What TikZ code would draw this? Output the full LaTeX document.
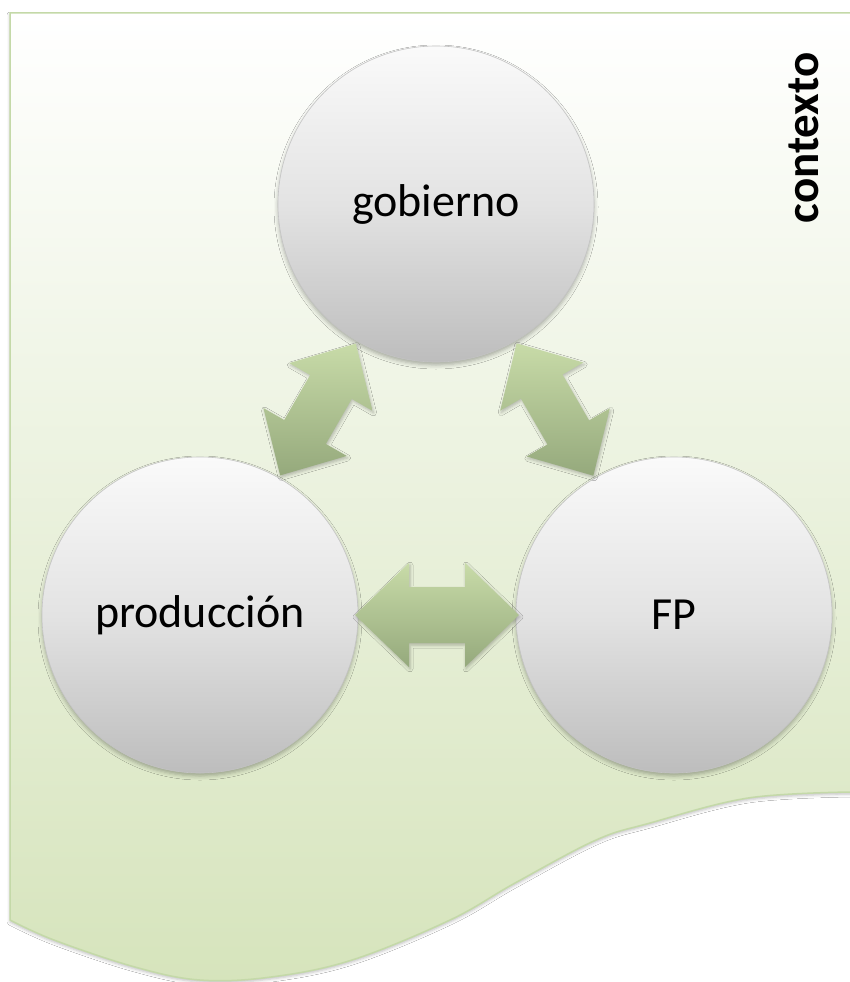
\documentclass[tikz,border=0pt]{standalone}
\usepackage{fontspec}
\setmainfont{Carlito}
\usetikzlibrary{calc,shadows.blur}
\definecolor{bgbot}{HTML}{D6E4BC}
\definecolor{framecol}{HTML}{C4D9A8}
\definecolor{arrtop}{HTML}{C8DBA8}
\definecolor{arrbot}{HTML}{95A97C}
\definecolor{balltop}{HTML}{FAFAFA}
\definecolor{ballmid}{HTML}{E3E3E3}
\definecolor{ballbot}{HTML}{BDBDBD}
\definecolor{ballrim}{HTML}{C4C4C4}
\tikzset{
  ball/.style={circle, minimum size=316pt, inner sep=0pt,
    top color=balltop, bottom color=ballbot, middle color=ballmid, draw=ballrim, line width=0.6pt,
    font=\fontsize{46}{55}\selectfont,
    blur shadow={shadow xshift=0pt, shadow yshift=-3pt, shadow blur radius=4pt, shadow opacity=30}},
  blockarrow/.style={top color=arrtop, bottom color=arrbot, draw=none,
    blur shadow={shadow xshift=1pt, shadow yshift=-2pt, shadow blur radius=3pt, shadow opacity=25}},
  contextbg/.style={draw=framecol, line width=1.5pt, top color=white, bottom color=bgbot,
    blur shadow={shadow xshift=0pt, shadow yshift=-2pt, shadow blur radius=3pt, shadow opacity=25}},
  labeltext/.style={font=\bfseries\fontsize{47}{56}\selectfont}
}
% double block arrow between two circle nodes
% #1,#2 node names; #3 distance of tips from centres; #4 head length; #5 head half-width; #6 shaft half-width
\newcommand\dblarr[6]{%
  \coordinate (#1-#2-a) at ($(#1.center)!#3!(#2.center)$);
  \coordinate (#1-#2-b) at ($(#2.center)!#3!(#1.center)$);
  \path[blockarrow] (#1-#2-a)
    -- ($(#1-#2-a)!#4!(#1-#2-b)!#5!90:(#1-#2-b)$)
    -- ($(#1-#2-a)!#4!(#1-#2-b)!#6!90:(#1-#2-b)$)
    -- ($(#1-#2-b)!#4!(#1-#2-a)!#6!-90:(#1-#2-a)$)
    -- ($(#1-#2-b)!#4!(#1-#2-a)!#5!-90:(#1-#2-a)$)
    -- (#1-#2-b)
    -- ($(#1-#2-b)!#4!(#1-#2-a)!#5!90:(#1-#2-a)$)
    -- ($(#1-#2-b)!#4!(#1-#2-a)!#6!90:(#1-#2-a)$)
    -- ($(#1-#2-a)!#4!(#1-#2-b)!#6!-90:(#1-#2-b)$)
    -- ($(#1-#2-a)!#4!(#1-#2-b)!#5!-90:(#1-#2-b)$)
    -- cycle;
}
\begin{document}
\begin{tikzpicture}[x=1pt,y=-1pt]
\useasboundingbox (0,0) rectangle (850,982);
\fill[white] (0,0) rectangle (850,982);
\path[contextbg] (10,13) -- (880,13) -- (880,790) -- plot[smooth, tension=0.6] coordinates {(850,792) (748,798) (650,823) (596,840) (515,883) (450,920) (352,960) (271,977) (200,980) (135,967) (54,940) (10,920)} -- cycle;
\node[labeltext, rotate=90, anchor=base] (ctx) at (818,138) {contexto};
\node[ball] (gob) at (436,204) {gobierno};
\node[ball] (prod) at (200,615) {producción};
\node[ball] (fp) at (674,615) {FP};
\dblarr{prod}{fp}{155pt}{54pt}{52pt}{28pt}
\dblarr{gob}{prod}{161pt}{50pt}{48pt}{24pt}
\dblarr{gob}{fp}{161pt}{50pt}{48pt}{24pt}
\end{tikzpicture}
\end{document}
